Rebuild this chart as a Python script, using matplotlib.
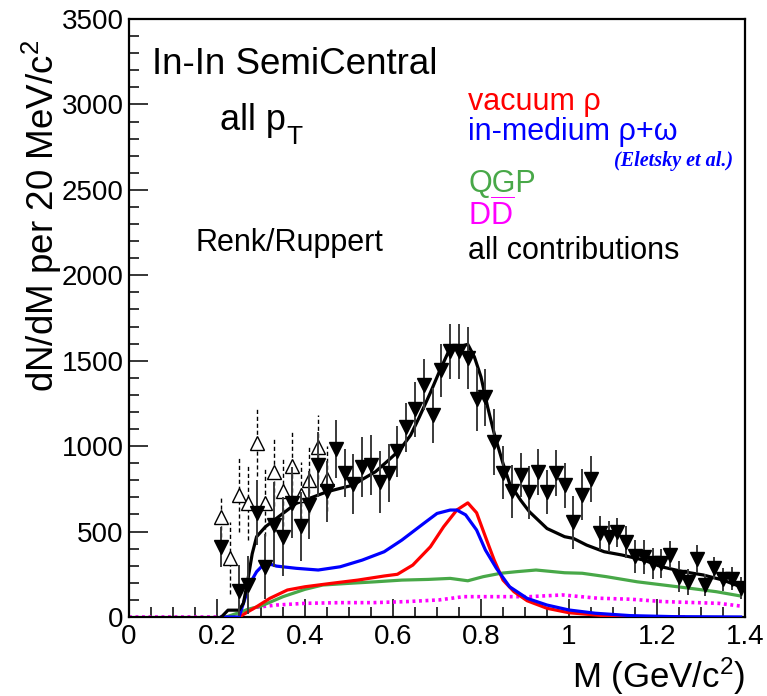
import matplotlib
matplotlib.use("Agg")
import matplotlib.pyplot as plt
from matplotlib.ticker import MultipleLocator, FixedLocator, FixedFormatter

plt.rcParams['font.family'] = ['Liberation Sans', 'DejaVu Sans']
plt.rcParams['mathtext.fontset'] = 'custom'
plt.rcParams['mathtext.rm'] = 'Liberation Sans'
plt.rcParams['mathtext.it'] = 'Liberation Sans:italic'
plt.rcParams['mathtext.bf'] = 'Liberation Sans:bold'

# ---- NA60-style dimuon excess, filled points (20 MeV bins) ----
data_m = [0.21, 0.25, 0.27, 0.29, 0.31, 0.33, 0.35, 0.37, 0.39, 0.41,
          0.43, 0.45, 0.47, 0.49, 0.51, 0.53, 0.55, 0.57, 0.59, 0.61,
          0.63, 0.65, 0.67, 0.69, 0.71, 0.73, 0.75, 0.77, 0.79, 0.81,
          0.83, 0.85, 0.87, 0.89, 0.91, 0.93, 0.95, 0.97, 0.99, 1.01,
          1.03, 1.05, 1.07, 1.09, 1.11, 1.13, 1.15, 1.17, 1.19, 1.21,
          1.23, 1.25, 1.27, 1.29, 1.31, 1.33, 1.35, 1.37, 1.39]
data_y = [410, 155, 185, 610, 295, 540, 470, 670, 530, 655,
          890, 735, 985, 845, 780, 880, 890, 790, 845, 970,
          1110, 1215, 1360, 1180, 1445, 1555, 1555, 1515, 1275, 1285,
          1025, 845, 735, 830, 730, 850, 730, 845, 770, 555,
          715, 810, 490, 470, 495, 440, 355, 350, 315, 315,
          365, 235, 205, 340, 185, 285, 220, 225, 170]
data_err = [115, 150, 170, 190, 190, 250, 230, 210, 200, 200,
            190, 180, 170, 140, 175, 175, 175, 180, 170, 150,
            145, 160, 150, 160, 155, 160, 160, 180, 185, 165,
            195, 155, 155, 130, 155, 135, 130, 135, 130, 155,
            150, 135, 100, 90, 85, 95, 95, 100, 90, 85,
            80, 90, 75, 80, 65, 65, 65, 65, 65]

# ---- open points (low-mass, dashed errors) ----
open_m = [0.21, 0.23, 0.25, 0.27, 0.29, 0.31, 0.33, 0.35, 0.37, 0.39, 0.41, 0.43, 0.45]
open_y = [585, 345, 715, 670, 1020, 670, 850, 735, 885, 715, 800, 995, 810]
open_err = [115, 210, 220, 220, 195, 195, 200, 200, 195, 190, 200, 190, 190]

# ---- model curves (Renk/Ruppert) ----
all_m = [0.21, 0.225, 0.25, 0.26, 0.27, 0.28, 0.29, 0.31, 0.335, 0.36, 0.38, 0.41,
         0.45, 0.48, 0.51, 0.53, 0.56, 0.59, 0.615, 0.64, 0.66, 0.685, 0.705,
         0.725, 0.75, 0.77, 0.785, 0.80, 0.815, 0.83, 0.85, 0.865, 0.89, 0.91,
         0.95, 0.99, 1.01, 1.04, 1.08, 1.12, 1.17, 1.21, 1.26, 1.305, 1.35, 1.39]
all_y = [0, 40, 40, 80, 215, 370, 470, 528, 577, 626, 665, 694,
         733, 753, 772, 805, 850, 918, 977, 1064, 1171, 1313, 1434,
         1547, 1581, 1596, 1522, 1405, 1230, 1074, 899, 782, 684, 616,
         518, 470, 460, 421, 382, 363, 333, 294, 265, 246, 216, 177]

vac_m = [0.25, 0.29, 0.32, 0.36, 0.40, 0.46, 0.52, 0.58, 0.61, 0.645, 0.685,
         0.715, 0.745, 0.77, 0.79, 0.81, 0.83, 0.85, 0.875, 0.905, 0.95,
         1.0, 1.06, 1.10, 1.26]
vac_y = [0, 60, 109, 158, 177, 197, 216, 240, 250, 304, 411,
         528, 626, 668, 610, 470, 333, 216, 148, 95, 51,
         25, 12, 3, 0]

med_m = [0.21, 0.25, 0.26, 0.275, 0.29, 0.31, 0.335, 0.38, 0.43, 0.48, 0.53,
         0.58, 0.62, 0.67, 0.70, 0.73, 0.745, 0.765, 0.79, 0.81, 0.835,
         0.865, 0.905, 0.95, 1.0, 1.06, 1.14, 1.24, 1.39]
med_y = [0, 0, 80, 197, 265, 318, 298, 285, 275, 294, 333,
         382, 450, 548, 606, 626, 626, 598, 509, 392, 285,
         177, 109, 70, 41, 22, 8, 2, 0]

qgp_m = [0.22, 0.25, 0.27, 0.30, 0.35, 0.40, 0.44, 0.50, 0.56, 0.62, 0.68,
         0.73, 0.77, 0.805, 0.845, 0.88, 0.925, 0.99, 1.03, 1.085, 1.155,
         1.215, 1.275, 1.335, 1.39]
qgp_y = [0, 25, 45, 64, 119, 162, 187, 197, 206, 216, 220,
         226, 212, 236, 256, 265, 275, 259, 256, 236, 206,
         187, 168, 148, 123]

dd_m = [0.0, 0.24, 0.25, 0.26, 0.29, 0.335, 0.40, 0.48, 0.555, 0.63, 0.705,
        0.76, 0.835, 0.91, 0.985, 1.065, 1.14, 1.215, 1.29, 1.34, 1.39]
dd_y = [0, 0, 20, 31, 57, 70, 80, 84, 84, 90, 100,
        119, 119, 119, 129, 110, 104, 90, 84, 80, 64]

W, H = 767, 696
fig = plt.figure(figsize=(W / 100, H / 100), dpi=100)
ax = fig.add_axes([129 / W, 79 / H, 616 / W, 598 / H])

GREEN = '#48a848'
lw_c = 2.3
ax.plot(dd_m, dd_y, color='#ff00ff', lw=2.6, ls=(0, (0.8, 1.0)), zorder=2)
ax.plot(qgp_m, qgp_y, color=GREEN, lw=lw_c, zorder=3)
ax.plot(vac_m, vac_y, color='#ff0000', lw=lw_c, zorder=4)
ax.plot(med_m, med_y, color='#0000ff', lw=lw_c, zorder=5)
ax.plot(all_m, all_y, color='black', lw=lw_c, zorder=6)

# open points with dashed error bars
eb = ax.errorbar(open_m, open_y, yerr=open_err, fmt='^', ms=9.5,
                 mfc='white', mec='black', mew=1.0, ecolor='black',
                 elinewidth=1.0, capsize=0, zorder=7)
eb[2][0].set_linestyle((0, (3, 2)))

# filled points
ax.errorbar(data_m, data_y, yerr=data_err, fmt='v', ms=9.5,
            mfc='black', mec='black', ecolor='#3a3a3a',
            elinewidth=1.4, capsize=0, zorder=8)

ax.set_xlim(0, 1.4)
ax.set_ylim(0, 3500)
ax.xaxis.set_major_locator(FixedLocator([0, 0.2, 0.4, 0.6, 0.8, 1.0, 1.2, 1.4]))
ax.xaxis.set_major_formatter(FixedFormatter(['0', '0.2', '0.4', '0.6', '0.8', '1', '1.2', '1.4']))
ax.xaxis.set_minor_locator(MultipleLocator(0.05))
ax.yaxis.set_major_locator(MultipleLocator(500))
ax.yaxis.set_minor_locator(MultipleLocator(100))
ax.tick_params(which='both', direction='in', top=False, right=False,
               labelsize=20, width=1.1)
ax.tick_params(axis='y', which='major', length=14, pad=4)
ax.tick_params(axis='y', which='minor', length=7)
ax.tick_params(axis='x', which='major', length=13, pad=5)
ax.tick_params(axis='x', which='minor', length=7)
for s in ax.spines.values():
    s.set_linewidth(1.6)


def ftext(x, y, s, **kw):
    kw.setdefault('va', 'baseline')
    kw.setdefault('ha', 'left')
    fig.text(x / W, 1 - y / H, s, **kw)


ftext(152, 74, 'In-In SemiCentral', fontsize=26.5)
ftext(220, 130, 'all p', fontsize=26)
ftext(286, 144, 'T', fontsize=19)
ftext(195, 251, 'Renk/Ruppert', fontsize=22)

ftext(468, 110, 'vacuum ρ', fontsize=22, color='#ff0000')
ftext(468, 140, 'in-medium ρ+ω', fontsize=22, color='#0000ff')
ftext(733, 166, '(Eletsky et al.)', fontsize=14.5, color='#0000ff', ha='right',
      family=['Liberation Serif'], style='italic', weight='bold')
ftext(468, 192, 'QGP', fontsize=22, color=GREEN)
ftext(468, 226, r'D$\overline{\mathrm{D}}$', fontsize=22, color='#ff00ff')
ftext(468, 259, 'all contributions', fontsize=22, color='black')

ftext(42, 40, r'dN/dM per 20 MeV/c$^{2}$', fontsize=26.5, rotation=90,
      ha='center', va='top')
ftext(745, 688, r'M (GeV/c$^{2}$)', fontsize=25, ha='right')

fig.savefig('out.png', dpi=100)
